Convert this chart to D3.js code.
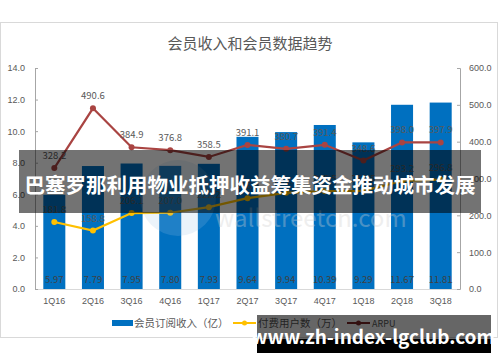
<!DOCTYPE html>
<html>
<head>
<meta charset="utf-8">
<script src="https://cdn.jsdelivr.net/npm/d3@7"></script>
<style>
  body { margin: 0; background: #fff; }
  svg { display: block; font-family: "Noto Sans CJK SC", "Noto Sans", sans-serif; }
</style>
</head>
<body>
<div id="wrapper"></div>
<script>
// data
const categories = ["1Q16", "2Q16", "3Q16", "4Q16", "1Q17", "2Q17", "3Q17", "4Q17", "1Q18", "2Q18", "3Q18"];
const revenue = [5.97, 7.79, 7.95, 7.80, 7.93, 9.64, 9.94, 10.39, 9.29, 11.67, 11.81];
const paidUsers = [181.8, 158.8, 206.1, 207.0, 222.2, 246.5, 261.1, 265.5, 266.5, 293.2, 296.8];
const arpu = [328.2, 490.6, 384.9, 376.8, 358.5, 391.1, 380.7, 391.4, 348.6, 398.0, 397.9];
const leftTicks = [0, 2, 4, 6, 8, 10, 12, 14];
const rightTicks = [0, 100, 200, 300, 400, 500, 600];
const legendLabels = ["会员订阅收入（亿）", "付费用户数（万）", "ARPU"];

function drawChart() {

  // 1. dimensions
  let dimensions = {
    width: 500,
    height: 362,
    margin: { top: 68, right: 40, bottom: 73, left: 35 },
  };
  dimensions.boundedWidth = dimensions.width - dimensions.margin.left - dimensions.margin.right;
  dimensions.boundedHeight = dimensions.height - dimensions.margin.top - dimensions.margin.bottom;

  const textColor = "#595959";
  const barColor = "#0070C0";
  const userColor = "#FFC000";
  const arpuColor = "#A94442";

  // 2. canvas
  const wrapper = d3.select("#wrapper")
    .append("svg")
      .attr("width", dimensions.width)
      .attr("height", dimensions.height);

  // chart frame
  wrapper.append("rect")
      .attr("x", 0.5)
      .attr("y", 22.5)
      .attr("width", 497)
      .attr("height", 315)
      .attr("fill", "#fff")
      .attr("stroke", "#D9D9D9");

  wrapper.append("text")
      .attr("x", 250)
      .attr("y", 49)
      .attr("text-anchor", "middle")
      .attr("fill", textColor)
      .style("font-size", "15px")
      .text("会员收入和会员数据趋势");

  const bounds = wrapper.append("g")
      .attr("transform", `translate(${dimensions.margin.left}, ${dimensions.margin.top})`);

  // 3. scales
  const xScale = d3.scaleBand()
    .domain(categories)
    .range([0, dimensions.boundedWidth])
    .paddingInner(0.43)
    .paddingOuter(0.215);

  const yLeft = d3.scaleLinear()
    .domain([0, 14])
    .range([dimensions.boundedHeight, 0]);

  const yRight = d3.scaleLinear()
    .domain([0, 600])
    .range([dimensions.boundedHeight, 0]);

  const xCenter = (d, i) => xScale(categories[i]) + xScale.bandwidth() / 2;

  // 4. bars
  bounds.append("g")
      .selectAll("rect")
      .data(revenue)
      .join("rect")
        .attr("x", (d, i) => xScale(categories[i]))
        .attr("y", d => yLeft(d))
        .attr("width", xScale.bandwidth())
        .attr("height", d => dimensions.boundedHeight - yLeft(d))
        .attr("fill", barColor);

  bounds.append("g")
      .selectAll("text")
      .data(revenue)
      .join("text")
        .attr("x", xCenter)
        .attr("y", dimensions.boundedHeight - 6)
        .attr("text-anchor", "middle")
        .attr("fill", "#404040")
        .style("font-size", "9.5px")
        .text(d => d3.format(".2f")(d));

  // x baseline
  bounds.append("line")
      .attr("x1", 0)
      .attr("x2", dimensions.boundedWidth)
      .attr("y1", dimensions.boundedHeight + 0.5)
      .attr("y2", dimensions.boundedHeight + 0.5)
      .attr("stroke", "#D9D9D9");

  // 5. lines
  const drawSeries = (values, color, r) => {
    const lineGenerator = d3.line()
      .x(xCenter)
      .y(d => yRight(d));

    bounds.append("path")
        .datum(values)
        .attr("d", lineGenerator)
        .attr("fill", "none")
        .attr("stroke", color)
        .attr("stroke-width", 2.2);

    bounds.append("g")
        .selectAll("circle")
        .data(values)
        .join("circle")
          .attr("cx", xCenter)
          .attr("cy", d => yRight(d))
          .attr("r", r)
          .attr("fill", color);

    bounds.append("g")
        .selectAll("text")
        .data(values)
        .join("text")
          .attr("x", xCenter)
          .attr("y", d => yRight(d) - 9)
          .attr("text-anchor", "middle")
          .attr("fill", textColor)
          .style("font-size", "9.5px")
          .text(d => d3.format(".1f")(d));
  };

  drawSeries(paidUsers, userColor, 3);
  drawSeries(arpu, arpuColor, 3);

  // 6. axes
  const styleAxis = g => {
    g.select(".domain").attr("stroke", "#A6A6A6");
    g.selectAll(".tick line").attr("stroke", "#A6A6A6");
    g.selectAll(".tick text").attr("fill", textColor).style("font-size", "9px");
  };

  bounds.append("g")
      .call(d3.axisLeft(yLeft)
        .tickValues(leftTicks)
        .tickFormat(d3.format(".1f"))
        .tickSizeInner(-3)
        .tickSizeOuter(-3)
        .tickPadding(10))
      .call(styleAxis);

  bounds.append("g")
      .attr("transform", `translate(${dimensions.boundedWidth}, 0)`)
      .call(d3.axisRight(yRight)
        .tickValues(rightTicks)
        .tickFormat(d3.format(".1f"))
        .tickSizeInner(-3)
        .tickSizeOuter(-3)
        .tickPadding(9))
      .call(styleAxis);

  const xAxis = bounds.append("g")
      .attr("transform", `translate(0, ${dimensions.boundedHeight})`)
      .call(d3.axisBottom(xScale).tickSize(0).tickPadding(9));
  xAxis.select(".domain").remove();
  xAxis.selectAll(".tick text").attr("fill", textColor).style("font-size", "9px");

  // 7. legend
  const legend = wrapper.append("g")
      .style("font-size", "10.5px")
      .attr("fill", textColor);

  legend.append("rect")
      .attr("x", 112).attr("y", 320)
      .attr("width", 21).attr("height", 6)
      .attr("fill", barColor);
  legend.append("text").attr("x", 134).attr("y", 327).text(legendLabels[0]);

  [[233, userColor, 1], [347, "#7F2A2A", 2]].forEach(([x, color, i]) => {
    legend.append("line")
        .attr("x1", x).attr("x2", x + 23)
        .attr("y1", 323).attr("y2", 323)
        .attr("stroke", color).attr("stroke-width", 2);
    legend.append("circle")
        .attr("cx", x + 11.5).attr("cy", 323).attr("r", 2.5)
        .attr("fill", color);
    legend.append("text")
        .attr("x", x + 25).attr("y", 327)
        .style("font-size", i === 2 ? "9px" : "10.5px")
        .text(legendLabels[i]);
  });

  // 8. watermark + overlays from the picture
  wrapper.append("circle")
      .attr("cx", 178).attr("cy", 198).attr("r", 38)
      .attr("fill", "#9DC3E6").attr("opacity", 0.2);
  wrapper.append("text")
      .attr("x", 215).attr("y", 227)
      .attr("fill", "#D0D0D0").attr("opacity", 0.35)
      .style("font-size", "24px")
      .text("wallstreetcn.com");

  wrapper.append("rect")
      .attr("x", 19).attr("y", 150)
      .attr("width", 462).attr("height", 63)
      .attr("fill", "#000").attr("opacity", 0.55);
  wrapper.append("text")
      .attr("x", 250).attr("y", 193)
      .attr("text-anchor", "middle")
      .attr("fill", "#fff")
      .style("font-size", "20.5px")
      .style("font-weight", "700")
      .text("巴塞罗那利用物业抵押收益筹集资金推动城市发展");

  wrapper.append("rect")
      .attr("x", 257).attr("y", 315)
      .attr("width", 234).attr("height", 38)
      .attr("fill", "#000").attr("opacity", 0.6);
  wrapper.append("rect")
      .attr("x", 257).attr("y", 339)
      .attr("width", 234).attr("height", 14)
      .attr("fill", "#000");
  wrapper.append("text")
      .attr("x", 373).attr("y", 344)
      .attr("text-anchor", "middle")
      .attr("fill", "#fff")
      .style("font-size", "19px")
      .style("font-weight", "700")
      .text("www.zh-index-lgclub.com");
}
drawChart();
</script>
</body>
</html>
